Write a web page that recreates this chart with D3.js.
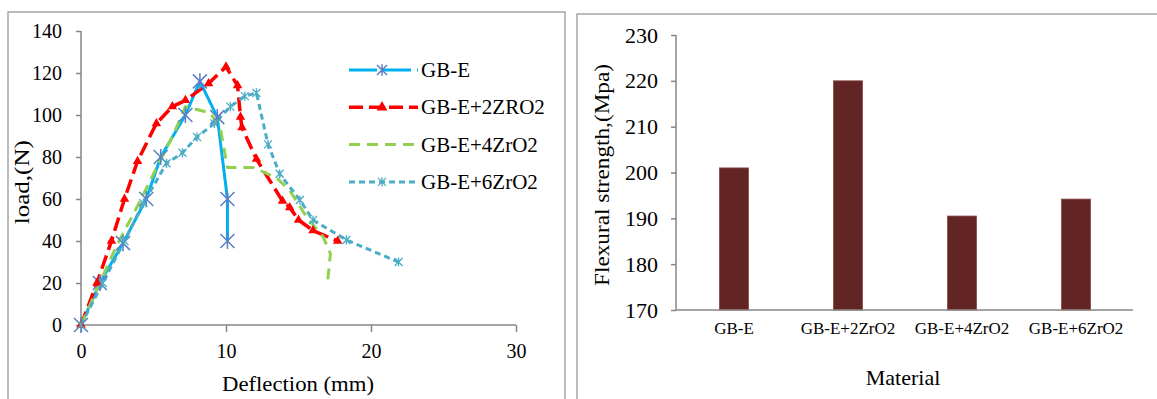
<!DOCTYPE html>
<html>
<head>
<meta charset="utf-8">
<script src="https://cdn.jsdelivr.net/npm/d3@7"></script>
<style>
	body { margin: 0; background: #fff; }
	svg { display: block; }
	svg text { font-family: 'Liberation Serif', 'DejaVu Serif', 'Times New Roman', serif !important; }
</style>
</head>
<body>
<svg id="chart" width="1157" height="399"></svg>
<script>
// load vs deflection curves
const seriesNames = ['GB-E', 'GB-E+2ZRO2', 'GB-E+4ZrO2', 'GB-E+6ZrO2'];
const gbE = [[0,0],[1.3,20],[2.9,39],[4.5,60],[5.5,80],[7.2,100],[8.2,116],[9.4,99],[10.1,60],[10.1,40]];
const gbE2 = [[0,0],[1.1,20],[2.1,40],[3,60],[3.9,78],[5.2,96],[6.3,104],[7.2,107],[8.8,115],[10,123],[10.8,114],[11,99],[11.1,94],[12.1,79],[13.9,59],[14.4,56],[15,50],[16,45],[17.7,40]];
const gbE4 = [[0,0],[2.4,37],[4,58],[5,72],[6.4,91],[7.2,104],[8.9,101],[9.6,94],[10.1,75],[11.9,75],[13.5,70],[14.4,64],[15.6,51],[16.7,42],[17.2,34],[17,20]];
const gbE6 = [[0,0],[1.5,20],[3,40],[4.3,58],[5.9,77],[7,82],[8,89.5],[9.2,96],[10.3,104],[11.3,109],[12.1,110.5],[12.9,86],[13.7,72],[15.1,59.5],[16,50],[18.3,40.5],[21.9,30]];
const xTicks = [0, 10, 20, 30];
const yTicks = [0, 20, 40, 60, 80, 100, 120, 140];

// flexural strength bars
const materials = ['GB-E', 'GB-E+2ZrO2', 'GB-E+4ZrO2', 'GB-E+6ZrO2'];
const strength = [201, 220, 190.5, 194.2];
const strengthTicks = [170, 180, 190, 200, 210, 220, 230];

const svg = d3.select('#chart');
const axisColor = '#868686';

// panel frames
svg.append('rect').attr('x', 8).attr('y', 12).attr('width', 557).attr('height', 400)
	.attr('fill', 'none').attr('stroke', '#a6a6a6').attr('stroke-width', 1.5);
svg.append('rect').attr('x', 577).attr('y', 14).attr('width', 600).attr('height', 400)
	.attr('fill', 'none').attr('stroke', '#a6a6a6').attr('stroke-width', 1.5);

/* -------------------- LEFT: line chart ---------------------- */
const x = d3.scaleLinear().domain([0, 30]).range([81, 516]);
const y = d3.scaleLinear().domain([0, 140]).range([325, 31]);

const left = svg.append('g');

const xAxis = left.append('g').attr('transform', `translate(0,${y(0)})`)
	.call(d3.axisBottom(x).tickValues(xTicks).tickSize(7).tickPadding(12));
const yAxis = left.append('g').attr('transform', `translate(${x(0)},0)`)
	.call(d3.axisLeft(y).tickValues(yTicks).tickSize(5).tickPadding(14));

[xAxis, yAxis].forEach(a => {
	a.select('.domain').attr('stroke', axisColor).attr('stroke-width', 1.5);
	a.selectAll('.tick line').attr('stroke', axisColor).attr('stroke-width', 1.5);
	a.selectAll('.tick text').attr('fill', '#000').style('font-size', '20px');
});
// remove outer end ticks from domain path
xAxis.select('.domain').attr('d', `M${x(0)},0H${x(30)}`);
yAxis.select('.domain').attr('d', `M0,${y(0)}V${y(140)}`);

left.append('text').attr('transform', `translate(29,${y(68)}) rotate(-90)`)
	.attr('text-anchor', 'middle').style('font-size', '20px')
	.attr('textLength', 84).attr('lengthAdjust', 'spacingAndGlyphs').text('load,(N)');
left.append('text').attr('x', 298).attr('y', 391)
	.attr('text-anchor', 'middle').style('font-size', '20px')
	.attr('textLength', 152).attr('lengthAdjust', 'spacingAndGlyphs').text('Deflection (mm)');

const line = d3.line().x(d => x(d[0])).y(d => y(d[1]));

const styles = [
	{ data: gbE, color: '#00b0f0', dash: null, width: 3, marker: 'asterisk', mcolor: '#5a7fc4', msize: 7 },
	{ data: gbE2, color: '#ff0000', dash: '14,6', width: 3.5, marker: 'triangle', mcolor: '#ff0000', msize: 3.5 },
	{ data: gbE4, color: '#92d050', dash: '11,7', width: 3, marker: null },
	{ data: gbE6, color: '#4bacc6', dash: '6,4', width: 3, marker: 'star', mcolor: '#4bacc6', msize: 4 }
];

function drawMarker(g, type, cx, cy, color, s) {
	if (type === 'asterisk' || type === 'star') {
		g.append('path')
			.attr('d', `M${cx - s},${cy - s}L${cx + s},${cy + s}M${cx - s},${cy + s}L${cx + s},${cy - s}M${cx},${cy - s * 1.15}V${cy + s * 1.15}`)
			.attr('stroke', color).attr('stroke-width', type === 'star' ? 1.3 : 1.5).attr('fill', 'none');
	} else if (type === 'triangle') {
		g.append('path')
			.attr('d', d3.symbol().type(d3.symbolTriangle).size(s * s * 3.2)())
			.attr('transform', `translate(${cx},${cy})`).attr('fill', color);
	}
}

styles.forEach(st => {
	left.append('path').datum(st.data).attr('d', line)
		.attr('fill', 'none').attr('stroke', st.color).attr('stroke-width', st.width)
		.attr('stroke-dasharray', st.dash).attr('stroke-linejoin', 'round');
});
styles.forEach(st => {
	if (!st.marker) return;
	const mg = left.append('g');
	st.data.forEach(d => drawMarker(mg, st.marker, x(d[0]), y(d[1]), st.mcolor, st.msize));
});

// legend
const legend = left.append('g');
seriesNames.forEach((name, i) => {
	const st = styles[i];
	const ly = 70 + i * 37.3;
	legend.append('line').attr('x1', 349).attr('x2', 418).attr('y1', ly).attr('y2', ly)
		.attr('stroke', st.color).attr('stroke-width', st.width)
		.attr('stroke-dasharray', i === 0 ? '28,6,0,0' : st.dash);
	if (st.marker) drawMarker(legend, st.marker, 382, ly, st.mcolor, st.marker === 'asterisk' ? 5 : 4);
	legend.append('text').attr('x', 421).attr('y', ly + 7).style('font-size', '21px').text(name);
});

/* -------------------- RIGHT: bar chart ---------------------- */
const xb = d3.scaleBand().domain(materials).range([677, 1133]).paddingInner(0.745).paddingOuter(0.372);
const yb = d3.scaleLinear().domain([170, 230]).range([310, 35]);

const right = svg.append('g');

right.selectAll('rect.bar').data(materials).join('rect').attr('class', 'bar')
	.attr('x', d => xb(d)).attr('width', xb.bandwidth())
	.attr('y', (d, i) => yb(strength[i])).attr('height', (d, i) => yb(170) - yb(strength[i]))
	.attr('fill', '#632523').attr('stroke', '#8a4a48').attr('stroke-width', 0.8);

const ybAxis = right.append('g').attr('transform', `translate(676,0)`)
	.call(d3.axisLeft(yb).tickValues(strengthTicks).tickSize(5).tickPadding(13));
ybAxis.select('.domain').attr('d', `M0,${yb(170)}V${yb(230)}`).attr('stroke', axisColor).attr('stroke-width', 1.5);
ybAxis.selectAll('.tick line').attr('stroke', axisColor).attr('stroke-width', 1.5);
ybAxis.selectAll('.tick text').attr('fill', '#000').style('font-size', '22px');

const xbAxis = right.append('g').attr('transform', `translate(0,310)`)
	.call(d3.axisBottom(xb).tickSize(0).tickPadding(12));
xbAxis.select('.domain').attr('d', `M676,0H1133`).attr('stroke', axisColor).attr('stroke-width', 1.5);
xbAxis.selectAll('.tick text').attr('fill', '#000').style('font-size', '17px');

right.append('text').attr('transform', `translate(609,175) rotate(-90)`)
	.attr('text-anchor', 'middle').style('font-size', '21px')
	.attr('textLength', 222).attr('lengthAdjust', 'spacingAndGlyphs').text('Flexural strength,(Mpa)');
right.append('text').attr('x', 903).attr('y', 385)
	.attr('text-anchor', 'middle').style('font-size', '22px').text('Material');
</script>
</body>
</html>
